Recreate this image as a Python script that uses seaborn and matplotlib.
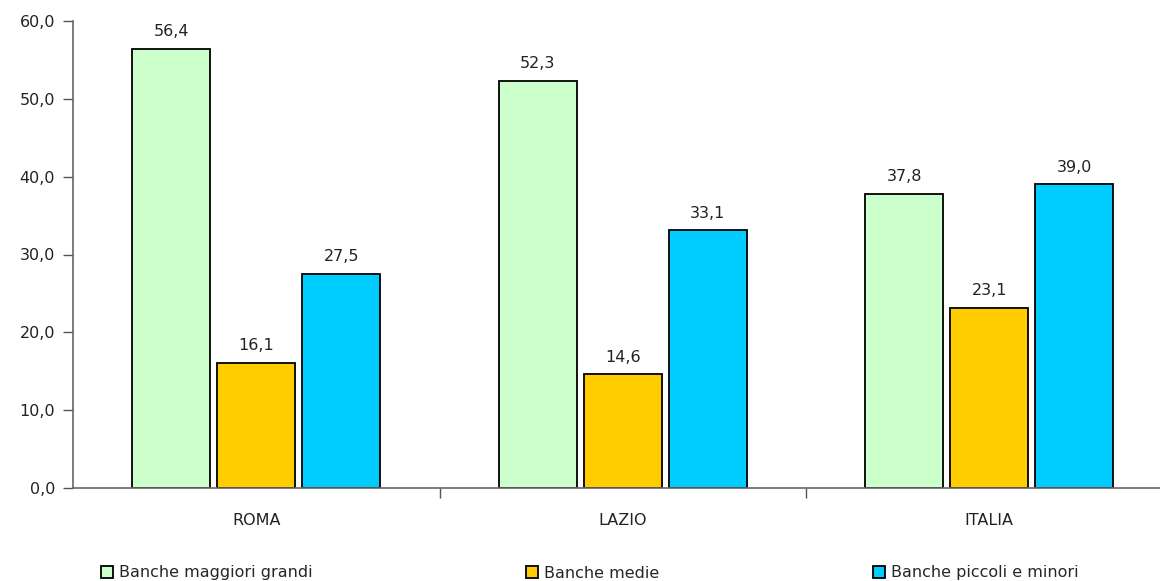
import matplotlib
matplotlib.use("Agg")
import matplotlib.pyplot as plt
from matplotlib.patches import Patch
from matplotlib.ticker import FixedLocator
import seaborn as sns
import pandas as pd

categories = ["ROMA", "LAZIO", "ITALIA"]
series_names = ["Banche maggiori grandi", "Banche medie", "Banche piccoli e minori"]
maggiori_grandi = [56.4, 52.3, 37.8]
medie = [16.1, 14.6, 23.1]
piccoli_minori = [27.5, 33.1, 39.0]
colors = ["#CCFFCC", "#FFCC00", "#00CCFF"]
y_ticks = [0, 10, 20, 30, 40, 50, 60]

sns.set_theme(style="white")
plt.rcParams["font.family"] = ["DejaVu Sans"]
FS = 11.5
TXT = "#222222"

rows = []
for name, vals in zip(series_names, [maggiori_grandi, medie, piccoli_minori]):
    for cat, v in zip(categories, vals):
        rows.append({"area": cat, "serie": name, "valore": v})
df = pd.DataFrame(rows)

fig = plt.figure(figsize=(11.6, 5.81), dpi=100)
ax = fig.add_axes([73 / 1160, 93 / 581, 1099.5 / 1160, 467 / 581])

sns.barplot(data=df, x="area", y="valore", hue="serie", order=categories,
            hue_order=series_names, palette=colors, width=0.695, gap=0.08,
            edgecolor="black", linewidth=1.3, saturation=1, ax=ax, legend=False)

def fmt(v):
    return f"{v:.1f}".replace(".", ",")

for cont, vals in zip(ax.containers, [maggiori_grandi, medie, piccoli_minori]):
    ax.bar_label(cont, labels=[fmt(v) for v in vals], padding=7,
                 fontsize=FS, color=TXT)

ax.set_xlim(-0.5, 2.5)
ax.set_ylim(0, 60)
ax.set_yticks(y_ticks)
ax.set_yticklabels([fmt(v) for v in y_ticks], fontsize=FS, color=TXT)
ax.set_xticks(range(len(categories)))
ax.set_xticklabels(categories, fontsize=FS, color=TXT)
ax.xaxis.set_minor_locator(FixedLocator([0.5, 1.5]))
ax.tick_params(axis="x", which="major", length=0, pad=18)
ax.tick_params(axis="x", which="minor", length=7, width=1, color="#555555", direction="out", bottom=True)
ax.tick_params(axis="y", length=7, width=1, color="#555555", direction="out", left=True, pad=6)
ax.set_xlabel("")
ax.set_ylabel("")
for side in ["top", "right"]:
    ax.spines[side].set_visible(False)
for side in ["left", "bottom"]:
    ax.spines[side].set_color("#666666")
    ax.spines[side].set_linewidth(1.2)

handles = [Patch(facecolor=c, edgecolor="black", linewidth=1.3) for c in colors]
fig.legend(handles, series_names, loc="center left", bbox_to_anchor=(101 / 1160, 1 - 573 / 581),
           ncol=3, frameon=False, fontsize=FS, handlelength=0.75, handleheight=0.75,
           handletextpad=0.35, columnspacing=13.4, borderpad=0, borderaxespad=0)

fig.savefig("out.png", dpi=100)
